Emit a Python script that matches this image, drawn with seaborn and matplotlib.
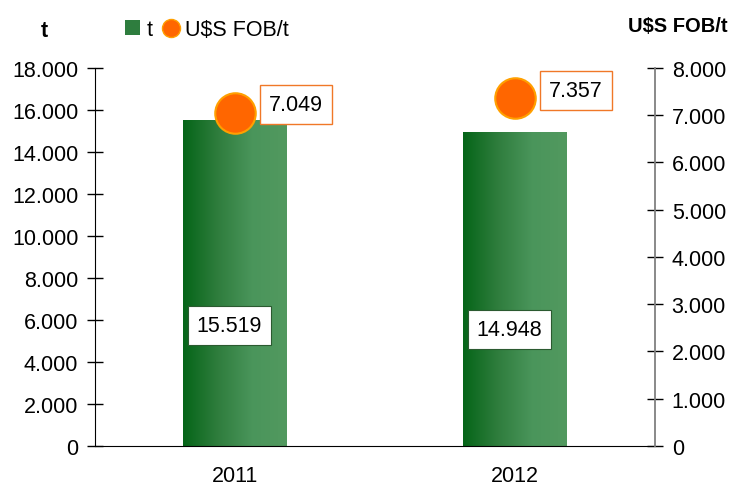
import matplotlib
matplotlib.use("Agg")
import matplotlib.pyplot as plt
import matplotlib.ticker as mticker
from matplotlib.colors import LinearSegmentedColormap
from matplotlib.lines import Line2D
from matplotlib.patches import Patch
import numpy as np
import pandas as pd
import seaborn as sns

# data
years = ["2011", "2012"]
tons = [15519, 14948]
price_fob = [7049, 7357]

sns.set_style("white")
plt.rcParams["font.family"] = ["Liberation Sans", "DejaVu Sans"]
plt.rcParams["font.size"] = 15.5
plt.rcParams["text.color"] = "black"
plt.rcParams["xtick.color"] = "black"
plt.rcParams["ytick.color"] = "black"

df = pd.DataFrame({"year": years, "t": tons})


def br(v):
    # 15519 -> 15.519
    return f"{v:,.0f}".replace(",", ".")


fig = plt.figure(figsize=(7.33, 4.89), dpi=100)
ax = fig.add_axes([0.1296, 0.0859, 0.764, 0.773])

sns.barplot(data=df, x="year", y="t", ax=ax, width=0.37, color="#2e7d3e",
            edgecolor="none", linewidth=0)

# horizontal green gradient inside each bar
cmap = LinearSegmentedColormap.from_list("g", ["#056518", "#2f7d3d", "#4a955b", "#52995f"])
grad = np.linspace(0, 1, 256).reshape(1, -1)
for p in ax.patches:
    x0, y0 = p.get_x(), p.get_y()
    w, h = p.get_width(), p.get_height()
    im = ax.imshow(grad, cmap=cmap, aspect="auto", extent=[x0, x0 + w, y0, y0 + h],
                   zorder=p.get_zorder() + 0.1)
    im.set_clip_path(p)

ax.set_xlim(-0.5, 1.5)
ax.set_ylim(0, 18000)
ax.set_yticks(np.arange(0, 18001, 2000))
ax.yaxis.set_major_formatter(mticker.FuncFormatter(lambda v, _: br(v)))
ax.set_xlabel("")
ax.set_ylabel("")
ax.set_xticks([0, 1])
ax.set_xticklabels(years)
ax.tick_params(axis="x", length=0, pad=14)
ax.set_xticks([-0.5, 0.5, 1.5], minor=True)
ax.tick_params(axis="x", which="minor", direction="inout", length=12, width=1)
ax.tick_params(axis="y", direction="inout", length=12, width=1, pad=6)
for s in ["top", "right"]:
    ax.spines[s].set_visible(False)
ax.spines["left"].set_color("black")
ax.spines["bottom"].set_color("black")

for i, v in enumerate(tons):
    ax.text(i - 0.02, v * 0.37, br(v), ha="center", va="center",
            zorder=5, bbox=dict(boxstyle="square,pad=0.42", fc="white",
                                ec="#2b5a30", lw=0.8))

ax2 = ax.twinx()
ax2.set_ylim(0, 8000)
ax2.set_yticks(np.arange(0, 8001, 1000))
ax2.yaxis.set_major_formatter(mticker.FuncFormatter(lambda v, _: br(v)))
ax2.tick_params(axis="y", direction="inout", length=12, width=1, pad=6)
for s in ["top", "left", "bottom"]:
    ax2.spines[s].set_visible(False)
ax2.spines["right"].set_color("#808080")
ax2.spines["right"].set_linewidth(1.3)

sns.scatterplot(x=np.arange(len(years)), y=price_fob, ax=ax2, s=850,
                color="#ff6600", edgecolor="#ffa000", linewidth=1.5, zorder=6,
                legend=False)
for i, v in enumerate(price_fob):
    ax2.annotate(br(v), (i, v), xytext=(44, 6), textcoords="offset points",
                 ha="center", va="center", zorder=7,
                 bbox=dict(boxstyle="square,pad=0.42", fc="white",
                           ec="#f07828", lw=1))

fig.text(0.061, 0.935, "t", fontweight="bold", ha="center", va="center")
fig.text(0.993, 0.945, "U$S FOB/t", fontweight="bold", fontsize=14.5,
         ha="right", va="center")

handles = [Patch(facecolor="#2e7d3e", edgecolor="none"),
           Line2D([], [], marker="o", ls="none", markersize=13,
                  markerfacecolor="#ff6600", markeredgecolor="#ffa000")]
fig.legend(handles, ["t", "U$S FOB/t"], loc="center left",
           bbox_to_anchor=(0.156, 0.937), ncol=2, frameon=False,
           handlelength=0.7, handleheight=0.7, handletextpad=0.3,
           columnspacing=0.5, borderpad=0)

fig.savefig("out.png", dpi=100)
